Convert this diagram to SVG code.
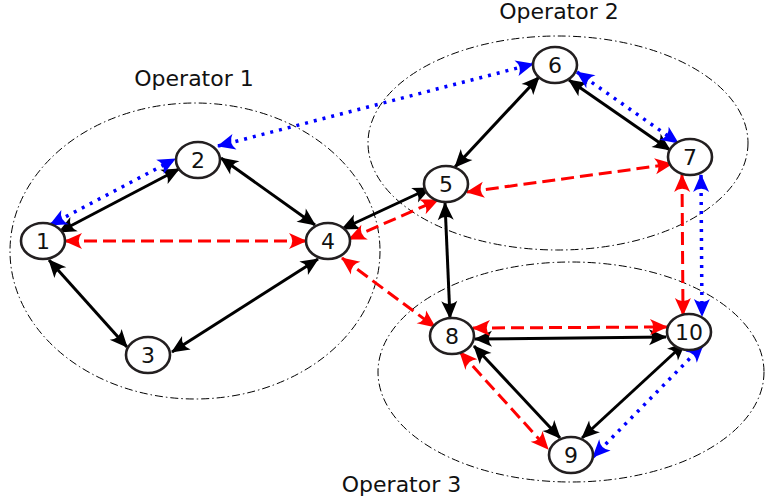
<svg xmlns="http://www.w3.org/2000/svg" width="765" height="503" viewBox="0 0 765 503">
<style>
.op{fill:none;stroke:#000;stroke-width:1;stroke-dasharray:8,3,1.5,3}
.lbl{font-family:"DejaVu Sans","Liberation Sans",sans-serif;font-size:22px;fill:#111}
.node ellipse{fill:#fff;stroke:#231f20;stroke-width:2.6}
.node text{font-family:"DejaVu Sans","Liberation Sans",sans-serif;font-size:22px;fill:#111;text-anchor:middle}
.k{fill:none;stroke:#000;stroke-width:3;marker-start:url(#ak);marker-end:url(#ak)}
.r{fill:none;stroke:#f00;stroke-width:3;stroke-dasharray:13,6;marker-start:url(#ar);marker-end:url(#ar)}
.b{fill:none;stroke:#00f;stroke-width:3.5;stroke-dasharray:3,6;marker-start:url(#ab);marker-end:url(#ab)}
</style>
<defs>
<marker id="ak" markerUnits="userSpaceOnUse" orient="auto-start-reverse" refX="0" refY="0" markerWidth="40" markerHeight="40" overflow="visible"><path d="M1,0 L-17,-8 Q-10.5,0 -17,8 Z" fill="#000"/></marker>
<marker id="ar" markerUnits="userSpaceOnUse" orient="auto-start-reverse" refX="0" refY="0" markerWidth="40" markerHeight="40" overflow="visible"><path d="M1,0 L-17,-8 Q-10.5,0 -17,8 Z" fill="#f00"/></marker>
<marker id="ab" markerUnits="userSpaceOnUse" orient="auto-start-reverse" refX="0" refY="0" markerWidth="40" markerHeight="40" overflow="visible"><path d="M1,0 L-17,-8 Q-10.5,0 -17,8 Z" fill="#00f"/></marker>
</defs>
<g id="operators">
<ellipse class="op" cx="195" cy="251" rx="185" ry="148"/>
<ellipse class="op" cx="558" cy="143" rx="190" ry="107"/>
<ellipse class="op" cx="571" cy="372" rx="193" ry="110"/>
<text class="lbl" x="194" y="86" text-anchor="middle">Operator 1</text>
<text class="lbl" x="559" y="19" text-anchor="middle">Operator 2</text>
<text class="lbl" x="401.5" y="492" text-anchor="middle">Operator 3</text>
</g>
<g id="connectors">
<line class="k" x1="59" y1="232" x2="179" y2="169"/>
<line class="k" x1="49" y1="260" x2="127" y2="347"/>
<line class="k" x1="172" y1="352" x2="318" y2="259"/>
<line class="k" x1="221" y1="158" x2="315" y2="225"/>
<line class="k" x1="342" y1="229" x2="430" y2="188"/>
<line class="k" x1="455" y1="167" x2="539" y2="77"/>
<line class="k" x1="569" y1="80" x2="670" y2="150"/>
<line class="k" x1="445" y1="203" x2="450" y2="318"/>
<line class="k" x1="475" y1="339" x2="666" y2="337"/>
<line class="k" x1="474" y1="346" x2="560" y2="438"/>
<line class="k" x1="582" y1="438" x2="685" y2="343"/>
<line class="r" x1="65" y1="241" x2="306" y2="241"/>
<line class="r" x1="349" y1="239" x2="438" y2="200"/>
<line class="r" x1="467" y1="192" x2="672" y2="164"/>
<line class="r" x1="342" y1="258" x2="435" y2="327"/>
<line class="r" x1="473" y1="328" x2="667" y2="327"/>
<line class="r" x1="460" y1="352" x2="548" y2="449"/>
<line class="r" x1="682" y1="175" x2="683" y2="315"/>
<line class="b" x1="50" y1="225" x2="175" y2="159"/>
<line class="b" x1="218" y1="146" x2="533" y2="64"/>
<line class="b" x1="577" y1="72" x2="678" y2="143"/>
<line class="b" x1="701" y1="175" x2="702" y2="316"/>
<line class="b" x1="593" y1="457" x2="703" y2="345"/>
</g>
<g id="n1" class="node"><ellipse cx="43" cy="241" rx="22" ry="18"/><text x="43" y="249">1</text></g>
<g id="n2" class="node"><ellipse cx="198" cy="160" rx="22" ry="18"/><text x="198" y="168">2</text></g>
<g id="n3" class="node"><ellipse cx="148" cy="355" rx="22" ry="18"/><text x="148" y="363">3</text></g>
<g id="n4" class="node"><ellipse cx="328" cy="241" rx="22" ry="18"/><text x="328" y="249">4</text></g>
<g id="n5" class="node"><ellipse cx="446" cy="184" rx="22" ry="18"/><text x="446" y="192">5</text></g>
<g id="n6" class="node"><ellipse cx="555" cy="65" rx="22" ry="18"/><text x="555" y="73">6</text></g>
<g id="n7" class="node"><ellipse cx="690" cy="157" rx="22" ry="18"/><text x="690" y="165">7</text></g>
<g id="n8" class="node"><ellipse cx="452" cy="336" rx="22" ry="18"/><text x="452" y="344">8</text></g>
<g id="n9" class="node"><ellipse cx="571" cy="455" rx="22" ry="18"/><text x="571" y="463">9</text></g>
<g id="n10" class="node"><ellipse cx="689" cy="332" rx="22" ry="18"/><text x="689" y="340">10</text></g>
</svg>
